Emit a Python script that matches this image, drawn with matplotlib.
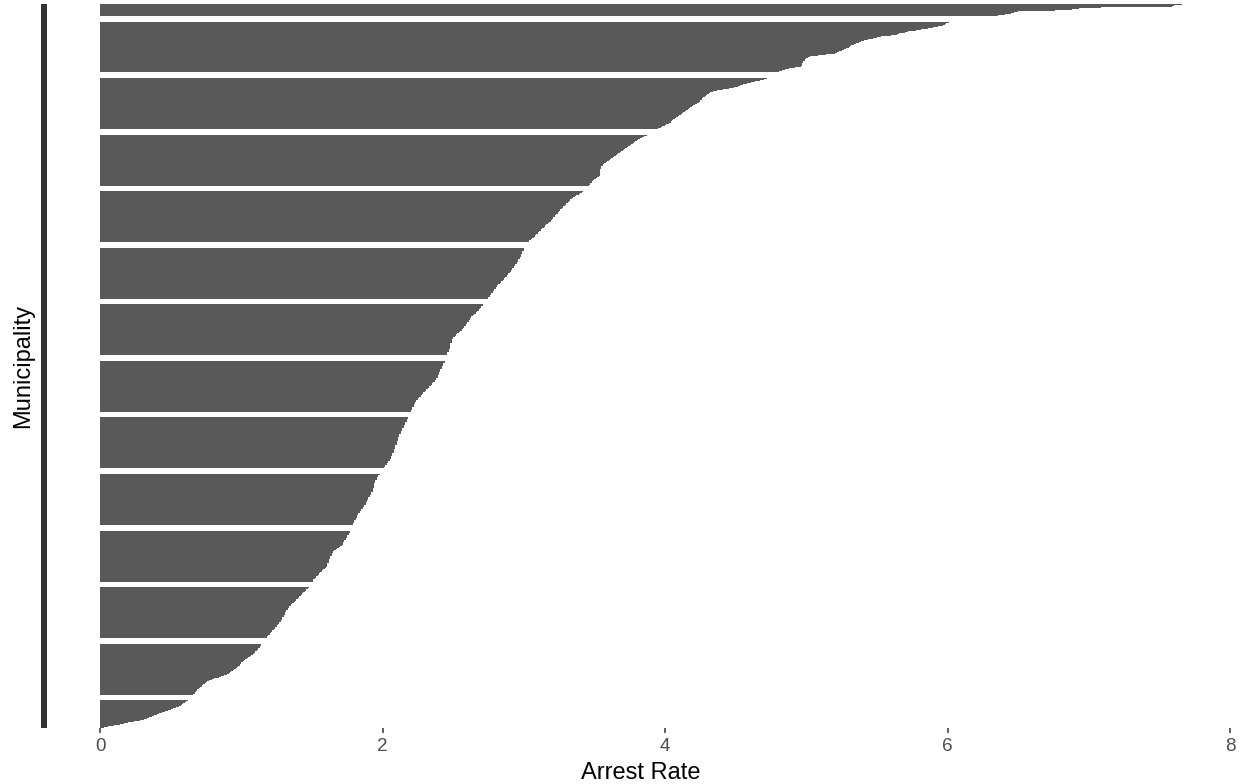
import matplotlib
matplotlib.use("Agg")
import matplotlib.pyplot as plt
from matplotlib.lines import Line2D
import numpy as np

plt.rcParams['font.family'] = ['Liberation Sans', 'DejaVu Sans']

# arrest rate per municipality, highest first
arrest_rate = [
    7.66, 7.60, 7.59, 7.09, 6.93, 6.88, 6.76, 6.50, 6.47, 6.45,
    6.41, 6.36, 6.33, 6.29, 6.25, 6.22, 6.07, 6.01, 5.99, 5.98,
    5.97, 5.93, 5.90, 5.86, 5.81, 5.78, 5.72, 5.70, 5.66, 5.64,
    5.60, 5.53, 5.50, 5.47, 5.44, 5.41, 5.39, 5.37, 5.35, 5.34,
    5.32, 5.31, 5.30, 5.28, 5.27, 5.25, 5.23, 5.22, 5.20, 5.14,
    5.08, 5.03, 5.01, 5.00, 4.99, 4.99, 4.98, 4.98, 4.97, 4.97,
    4.97, 4.96, 4.92, 4.88, 4.85, 4.83, 4.81, 4.79, 4.77, 4.75,
    4.74, 4.73, 4.72, 4.70, 4.67, 4.64, 4.61, 4.58, 4.55, 4.53,
    4.52, 4.49, 4.45, 4.41, 4.37, 4.34, 4.32, 4.31, 4.30, 4.29,
    4.28, 4.27, 4.26, 4.26, 4.25, 4.25, 4.24, 4.23, 4.21, 4.20,
    4.19, 4.18, 4.17, 4.16, 4.15, 4.14, 4.13, 4.12, 4.11, 4.10,
    4.09, 4.08, 4.07, 4.06, 4.05, 4.04, 4.04, 4.03, 4.01, 4.00,
    3.98, 3.97, 3.95, 3.94, 3.93, 3.92, 3.91, 3.89, 3.87, 3.85,
    3.84, 3.82, 3.81, 3.80, 3.79, 3.78, 3.77, 3.76, 3.75, 3.74,
    3.73, 3.72, 3.71, 3.70, 3.69, 3.68, 3.67, 3.66, 3.65, 3.64,
    3.63, 3.62, 3.61, 3.60, 3.59, 3.58, 3.57, 3.56, 3.56, 3.55,
    3.55, 3.55, 3.54, 3.54, 3.54, 3.54, 3.54, 3.54, 3.54, 3.53,
    3.52, 3.51, 3.50, 3.49, 3.48, 3.48, 3.47, 3.47, 3.46, 3.46,
    3.45, 3.44, 3.43, 3.42, 3.41, 3.40, 3.39, 3.37, 3.36, 3.35,
    3.34, 3.33, 3.33, 3.32, 3.31, 3.30, 3.30, 3.29, 3.28, 3.28,
    3.27, 3.26, 3.26, 3.25, 3.24, 3.24, 3.23, 3.22, 3.22, 3.21,
    3.21, 3.20, 3.19, 3.19, 3.18, 3.17, 3.16, 3.15, 3.15, 3.14,
    3.13, 3.12, 3.12, 3.11, 3.10, 3.10, 3.09, 3.08, 3.08, 3.07,
    3.06, 3.05, 3.04, 3.04, 3.03, 3.02, 3.02, 3.01, 3.01, 3.00,
    3.00, 3.00, 2.99, 2.99, 2.99, 2.98, 2.98, 2.98, 2.97, 2.97,
    2.96, 2.96, 2.96, 2.95, 2.95, 2.94, 2.94, 2.93, 2.93, 2.92,
    2.92, 2.91, 2.91, 2.90, 2.89, 2.89, 2.88, 2.88, 2.87, 2.86,
    2.86, 2.85, 2.84, 2.84, 2.83, 2.82, 2.81, 2.81, 2.80, 2.80,
    2.79, 2.79, 2.78, 2.78, 2.77, 2.77, 2.76, 2.76, 2.75, 2.75,
    2.74, 2.73, 2.73, 2.72, 2.71, 2.71, 2.70, 2.70, 2.69, 2.68,
    2.68, 2.67, 2.66, 2.66, 2.65, 2.64, 2.63, 2.63, 2.62, 2.62,
    2.61, 2.61, 2.60, 2.60, 2.59, 2.59, 2.58, 2.58, 2.57, 2.56,
    2.56, 2.55, 2.54, 2.53, 2.52, 2.52, 2.51, 2.50, 2.50, 2.49,
    2.49, 2.49, 2.49, 2.48, 2.48, 2.48, 2.48, 2.48, 2.48, 2.47,
    2.47, 2.47, 2.46, 2.46, 2.46, 2.45, 2.45, 2.45, 2.44, 2.44,
    2.44, 2.44, 2.43, 2.43, 2.43, 2.42, 2.42, 2.42, 2.41, 2.41,
    2.41, 2.40, 2.40, 2.40, 2.39, 2.39, 2.39, 2.38, 2.38, 2.37,
    2.37, 2.36, 2.35, 2.35, 2.34, 2.33, 2.33, 2.32, 2.31, 2.31,
    2.30, 2.29, 2.29, 2.28, 2.27, 2.27, 2.26, 2.25, 2.25, 2.24,
    2.24, 2.23, 2.23, 2.22, 2.22, 2.22, 2.21, 2.21, 2.21, 2.20,
    2.20, 2.19, 2.19, 2.19, 2.18, 2.18, 2.18, 2.17, 2.17, 2.17,
    2.16, 2.16, 2.16, 2.15, 2.15, 2.15, 2.14, 2.14, 2.14, 2.13,
    2.13, 2.13, 2.12, 2.12, 2.12, 2.11, 2.11, 2.11, 2.11, 2.10,
    2.10, 2.10, 2.10, 2.09, 2.09, 2.09, 2.09, 2.08, 2.08, 2.08,
    2.08, 2.07, 2.07, 2.07, 2.06, 2.06, 2.06, 2.05, 2.05, 2.04,
    2.04, 2.03, 2.03, 2.02, 2.02, 2.01, 2.01, 2.00, 2.00, 1.99,
    1.99, 1.98, 1.97, 1.97, 1.96, 1.96, 1.96, 1.95, 1.95, 1.95,
    1.94, 1.94, 1.94, 1.94, 1.94, 1.93, 1.93, 1.93, 1.93, 1.92,
    1.92, 1.92, 1.91, 1.91, 1.90, 1.90, 1.90, 1.89, 1.89, 1.88,
    1.88, 1.88, 1.87, 1.87, 1.86, 1.86, 1.85, 1.85, 1.84, 1.84,
    1.83, 1.83, 1.82, 1.82, 1.82, 1.81, 1.81, 1.80, 1.80, 1.80,
    1.79, 1.79, 1.79, 1.78, 1.78, 1.78, 1.77, 1.77, 1.77, 1.76,
    1.76, 1.75, 1.75, 1.75, 1.74, 1.74, 1.73, 1.73, 1.72, 1.72,
    1.72, 1.71, 1.70, 1.69, 1.68, 1.67, 1.66, 1.65, 1.65, 1.64,
    1.64, 1.64, 1.63, 1.63, 1.63, 1.62, 1.62, 1.62, 1.62, 1.61,
    1.61, 1.61, 1.61, 1.60, 1.59, 1.58, 1.57, 1.57, 1.56, 1.55,
    1.55, 1.54, 1.53, 1.53, 1.52, 1.51, 1.51, 1.51, 1.50, 1.50,
    1.49, 1.48, 1.48, 1.47, 1.46, 1.46, 1.45, 1.44, 1.43, 1.43,
    1.42, 1.41, 1.41, 1.40, 1.39, 1.39, 1.38, 1.37, 1.36, 1.35,
    1.35, 1.34, 1.34, 1.33, 1.33, 1.32, 1.32, 1.31, 1.31, 1.31,
    1.30, 1.30, 1.29, 1.29, 1.29, 1.28, 1.28, 1.27, 1.27, 1.26,
    1.25, 1.25, 1.24, 1.24, 1.23, 1.22, 1.22, 1.21, 1.20, 1.20,
    1.19, 1.18, 1.18, 1.17, 1.16, 1.16, 1.15, 1.15, 1.14, 1.14,
    1.13, 1.13, 1.12, 1.12, 1.11, 1.10, 1.10, 1.09, 1.08, 1.07,
    1.06, 1.05, 1.04, 1.03, 1.02, 1.01, 1.00, 1.00, 0.99, 0.99,
    0.98, 0.97, 0.96, 0.95, 0.94, 0.93, 0.92, 0.91, 0.90, 0.88,
    0.86, 0.84, 0.81, 0.79, 0.77, 0.76, 0.75, 0.74, 0.73, 0.72,
    0.72, 0.71, 0.70, 0.69, 0.69, 0.68, 0.67, 0.67, 0.66, 0.65,
    0.64, 0.64, 0.63, 0.62, 0.61, 0.60, 0.59, 0.58, 0.57, 0.56,
    0.54, 0.52, 0.50, 0.48, 0.46, 0.44, 0.42, 0.40, 0.38, 0.37,
    0.35, 0.33, 0.31, 0.28, 0.24, 0.20, 0.17, 0.14, 0.10, 0.06,
    0.03,
]
x_ticks = [0, 2, 4, 6, 8]

# lowest rate at the bottom, highest at the top
rates = np.sort(np.array(arrest_rate))
n = len(rates)
pos = np.arange(n)

W, H = 1244, 784
fig = plt.figure(figsize=(W / 100, H / 100), dpi=100)
ax = fig.add_axes([46 / W, 56 / H, 1189 / W, 724 / H])

# aliased fill keeps the bars solid; only thin gaps show through
ax.barh(pos, rates, height=0.9, color='#595959', linewidth=0,
        antialiased=False)

ax.set_xlim(-54 / 141.25, 1135 / 141.25)
ax.set_ylim(-0.46, n - 1 + 0.74)
ax.set_xticks(x_ticks)
ax.set_xticklabels([str(t) for t in x_ticks])
ax.set_yticks([])

for s in ax.spines.values():
    s.set_visible(False)
ax.tick_params(axis='x', length=3.6, width=1.1, color='#333333',
               labelsize=13.6, labelcolor='#4D4D4D', pad=3.5)

ax.set_xlabel('Arrest Rate', fontsize=17, color='black', labelpad=5)
ax.set_ylabel('Municipality', fontsize=17, color='black')
ax.yaxis.set_label_coords(-12 / 1189, 0.5)

# stacked municipality labels render as one dark strip beside the panel
fig.add_artist(Line2D([44 / W, 44 / W], [1 - 4 / H, 1 - 728 / H],
                      transform=fig.transFigure, color='#333333',
                      linewidth=6 * 0.72, solid_capstyle='butt'))

fig.savefig('out.png', dpi=100)
